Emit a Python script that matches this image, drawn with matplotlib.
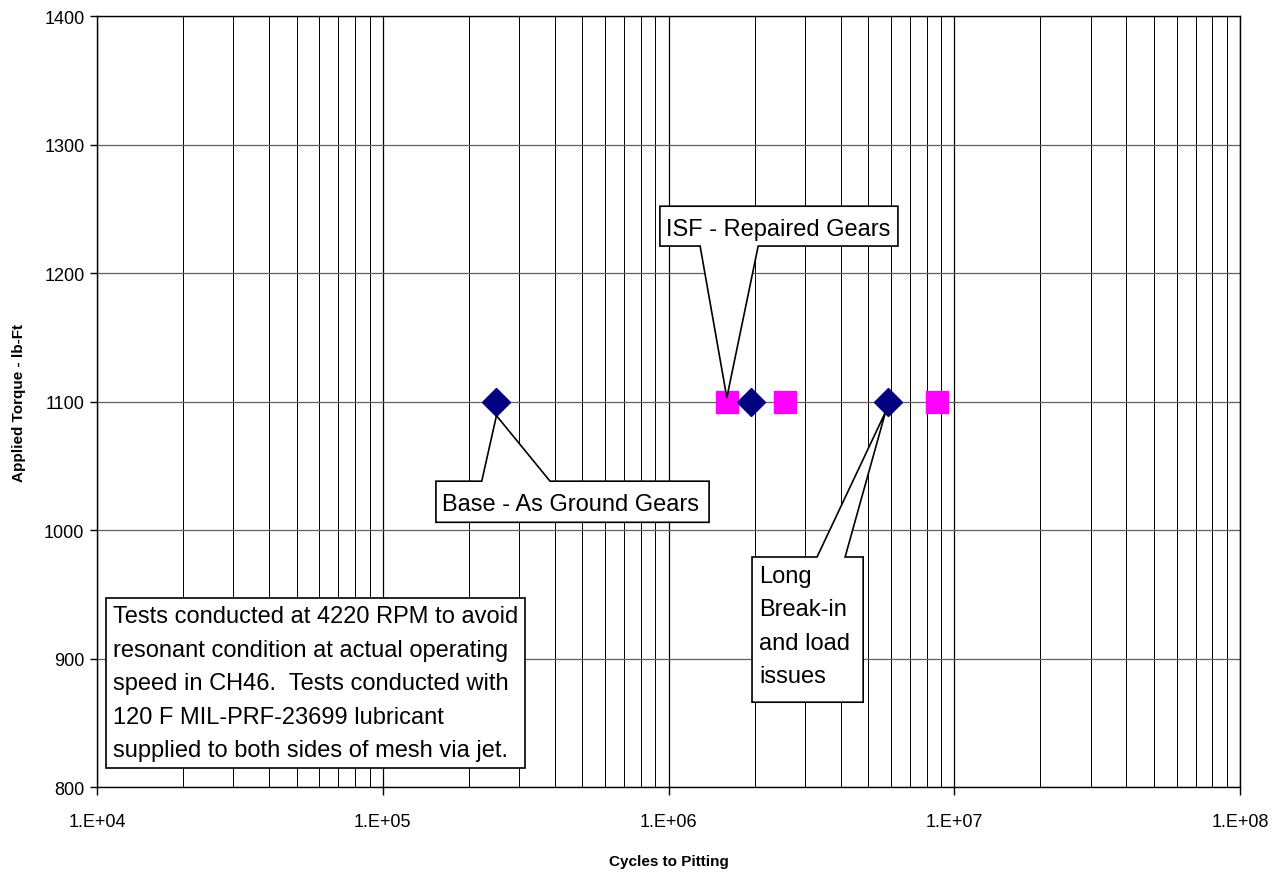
import numpy as np
import matplotlib
matplotlib.use("Agg")
import matplotlib.pyplot as plt
from matplotlib.ticker import FuncFormatter, LogLocator, FixedLocator
from matplotlib.patches import Polygon

plt.rcParams['font.family'] = ['Liberation Sans', 'DejaVu Sans']

# data
base_cycles = [2.5e5, 1.95e6, 5.85e6]
base_torque = [1100, 1100, 1100]
isf_cycles = [1.6e6, 2.55e6, 8.7e6]
isf_torque = [1100, 1100, 1100]

y_ticks = [800, 900, 1000, 1100, 1200, 1300, 1400]

note = ("Tests conducted at 4220 RPM to avoid\n"
        "resonant condition at actual operating\n"
        "speed in CH46.  Tests conducted with\n"
        "120 F MIL-PRF-23699 lubricant\n"
        "supplied to both sides of mesh via jet.")

# callouts: box (x0, x1, y_bottom, y_top), wedge base x pair, tip, text
callouts = [
    dict(box=(9.33e5, 6.35e6, 1221, 1252), side='bottom', wedge=(1.29e6, 2.06e6),
         tip=(1.6e6, 1103), text="ISF - Repaired Gears"),
    dict(box=(1.535e5, 1.387e6, 1006, 1038), side='top', wedge=(2.22e5, 3.85e5),
         tip=(2.5e5, 1089), text="Base - As Ground Gears"),
    dict(box=(1.96e6, 4.80e6, 866, 979), side='top', wedge=(3.31e6, 4.15e6),
         tip=(5.75e6, 1092), text="Long\nBreak-in\nand load\nissues"),
]


def fmt(v, pos):
    e = int(round(np.log10(v)))
    return "1.E+%02d" % e


fig = plt.figure(figsize=(12.83, 8.78), dpi=100)
ax = fig.add_axes([0.0756, 0.1025, 0.8909, 0.8781])
ax.set_xscale('log')
ax.set_xlim(1e4, 1e8)
ax.set_ylim(800, 1400)

ax.xaxis.set_major_locator(LogLocator(base=10, numticks=10))
ax.xaxis.set_minor_locator(LogLocator(base=10, subs=np.arange(2, 10), numticks=100))
ax.xaxis.set_major_formatter(FuncFormatter(fmt))
ax.xaxis.set_minor_formatter(FuncFormatter(lambda v, p: ""))
ax.yaxis.set_major_locator(FixedLocator(y_ticks))

ax.grid(True, which='major', axis='x', color='black', lw=0.9)
ax.grid(True, which='minor', axis='x', color='black', lw=0.7)
ax.grid(True, which='major', axis='y', color='#606060', lw=0.9)
ax.set_axisbelow(True)

ax.tick_params(axis='x', which='major', direction='out', length=6, width=1,
               labelsize=13, pad=13)
ax.tick_params(axis='x', which='minor', length=0)
ax.tick_params(axis='y', direction='out', length=5, width=1, labelsize=13, pad=4)
for s in ax.spines.values():
    s.set_color('black')
    s.set_linewidth(1)

ax.plot(isf_cycles, isf_torque, 's', color='#FF00FF', ms=16, mec='#FF00FF', zorder=4,
        linestyle='none')
ax.plot(base_cycles, base_torque, 'D', color='#000080', ms=14, mec='#000080', zorder=5,
        linestyle='none')

ax.set_xlabel("Cycles to Pitting", fontsize=11, fontweight='bold', labelpad=17)
ax.set_ylabel("Applied Torque - lb-Ft", fontsize=11, fontweight='bold', labelpad=13)

for c in callouts:
    x0, x1, yb, yt = c['box']
    w0, w1 = c['wedge']
    tx, ty = c['tip']
    if c['side'] == 'bottom':
        pts = [(x0, yt), (x1, yt), (x1, yb), (w1, yb), (tx, ty), (w0, yb), (x0, yb)]
    else:
        pts = [(x0, yt), (w0, yt), (tx, ty), (w1, yt), (x1, yt), (x1, yb), (x0, yb)]
    ax.add_patch(Polygon(pts, closed=True, facecolor='white', edgecolor='black',
                         lw=1.2, zorder=6))
    if '\n' in c['text']:
        ax.text(x0 * 1.06, yt - 6, c['text'], ha='left', va='top', fontsize=17,
                linespacing=1.68, zorder=7)
    else:
        ax.text(x0 * 1.05, (yb + yt) / 2, c['text'], ha='left', va='center_baseline',
                fontsize=17, zorder=7)

ax.text(0.014, 0.236, note, transform=ax.transAxes, ha='left', va='top',
        fontsize=17, linespacing=1.68, zorder=7,
        bbox=dict(boxstyle='square,pad=0.3', facecolor='white', edgecolor='black', lw=1.2))

fig.savefig("out.png", dpi=100)
